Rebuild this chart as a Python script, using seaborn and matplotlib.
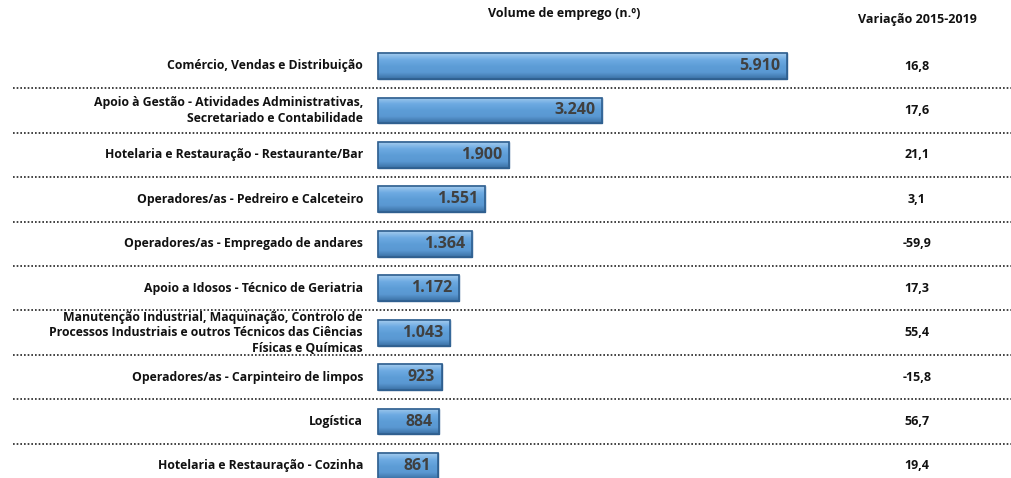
import numpy as np
import pandas as pd
import matplotlib
matplotlib.use("Agg")
import matplotlib.pyplot as plt
import seaborn as sns
from matplotlib.colors import LinearSegmentedColormap

# Dados
areas = [
    "Comércio, Vendas e Distribuição",
    "Apoio à Gestão - Atividades Administrativas,\nSecretariado e Contabilidade",
    "Hotelaria e Restauração - Restaurante/Bar",
    "Operadores/as - Pedreiro e Calceteiro",
    "Operadores/as - Empregado de andares",
    "Apoio a Idosos - Técnico de Geriatria",
    "Manutenção Industrial, Maquinação, Controlo de\nProcessos Industriais e outros Técnicos das Ciências\nFísicas e Químicas",
    "Operadores/as - Carpinteiro de limpos",
    "Logística",
    "Hotelaria e Restauração - Cozinha",
]
volume = [5910, 3240, 1900, 1551, 1364, 1172, 1043, 923, 884, 861]
variacao = [16.8, 17.6, 21.1, 3.1, -59.9, 17.3, 55.4, -15.8, 56.7, 19.4]

df = pd.DataFrame({"area": areas, "volume": volume, "variacao": variacao})

# Layout (pixels da figura)
W, H = 1011, 478
bar_x0 = 378          # início das barras
px_unit = 409 / 5910  # escala horizontal
row0, row_h = 66, 44.44

sns.set_theme(style="white")
plt.rcParams["font.family"] = ["Open Sans", "DejaVu Sans"]

fig = plt.figure(figsize=(W / 100, H / 100), dpi=100)
ax = fig.add_axes([0, 0, 1, 1])

sns.barplot(data=df, x="volume", y="area", orient="h", ax=ax,
            color="#5B9BD5", width=0.58, edgecolor="#2F5F8F", linewidth=1.0,
            saturation=1)
ax.set_axis_off()

# efeito de gradiente nas barras
grad = LinearSegmentedColormap.from_list(
    "bev", ["#A3CBEE", "#6EABE2", "#5D9DD7", "#5A98D2", "#3A70A4"])
g = np.linspace(0, 1, 64).reshape(-1, 1)
for p in ax.patches:
    x0, y0 = p.get_x(), p.get_y()
    w, h = p.get_width(), p.get_height()
    im = ax.imshow(g, cmap=grad, aspect="auto", interpolation="bilinear",
                   extent=(x0, x0 + w, y0 + h, y0), zorder=p.get_zorder() + 0.1)
    im.set_clip_path(p)
    ax.add_patch(plt.Rectangle((x0, y0), w, h, fill=False, edgecolor="#2F5F8F",
                               linewidth=1.2, zorder=p.get_zorder() + 0.2))
ax.set_xlim(-bar_x0 / px_unit, (W - bar_x0) / px_unit)
ax.set_ylim((H - row0) / row_h, -row0 / row_h)

pad = 7 / px_unit
for i, (lab, v, var) in enumerate(zip(areas, volume, variacao)):
    ax.text(v - pad, i, f"{v:,}".replace(",", "."), ha="right", va="center",
            fontsize=11.5, fontweight="bold", color="#404040", zorder=5)
    ax.text((363 - bar_x0) / px_unit, i, lab, ha="right", va="center",
            fontsize=8.8, fontweight="bold", color="#111111", linespacing=1.25)
    ax.text((917 - bar_x0) / px_unit, i, f"{var:.1f}".replace(".", ","),
            ha="center", va="center", fontsize=9, fontweight="bold",
            color="#111111")

# separadores pontilhados
for i in range(len(areas) - 1):
    ax.plot([(13 - bar_x0) / px_unit, (W - bar_x0) / px_unit], [i + 0.5, i + 0.5],
            linestyle=(0, (1, 1.2)), color="#222222", linewidth=1.2, zorder=1)

# cabeçalhos
fig.text(564 / W, 1 - 14 / H, "Volume de emprego (n.º)", ha="center",
         va="center", fontsize=9, fontweight="bold", color="#111111")
fig.text(917 / W, 1 - 19 / H, "Variação 2015-2019", ha="center",
         va="center", fontsize=9, fontweight="bold", color="#111111")

fig.savefig("out.png", dpi=100)
